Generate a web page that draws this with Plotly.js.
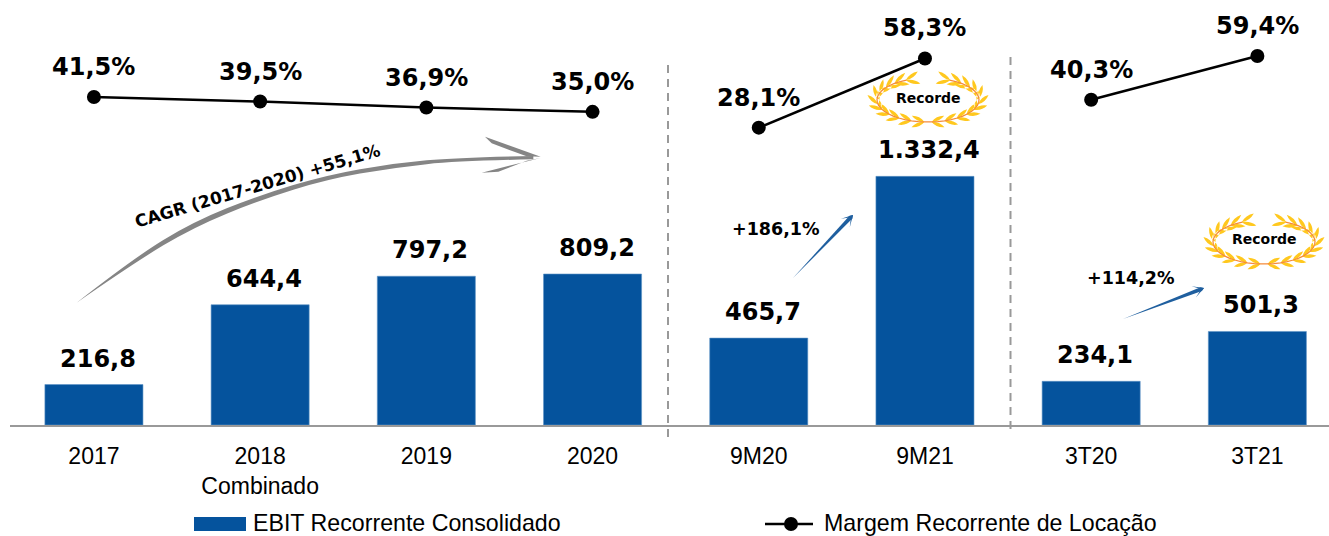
<!DOCTYPE html>
<html>
<head>
<meta charset="utf-8">
<script src="https://cdn.plot.ly/plotly-3.0.1.min.js"></script>
<style>html,body{margin:0;padding:0;background:#fff;overflow:hidden}#chart{width:1329px;height:536px}</style>
</head>
<body>
<div id="chart"></div>
<script>
const categories = ["2017", "2018<br>Combinado", "2019", "2020", "9M20", "9M21", "3T20", "3T21"];
const ebit = [216.8, 644.4, 797.2, 809.2, 465.7, 1332.4, 234.1, 501.3];
const ebitLabels = ["216,8", "644,4", "797,2", "809,2", "465,7", "1.332,4", "234,1", "501,3"];
const marginAnnual = [41.5, 39.5, 36.9, 35.0];
const margin9M = [28.1, 58.3];
const margin3T = [40.3, 59.4];
const marginAnnualLabels = ["41,5%", "39,5%", "36,9%", "35,0%"];
const margin9MLabels = ["28,1%", "58,3%"];
const margin3TLabels = ["40,3%", "59,4%"];
const seriesNames = ["EBIT Recorrente Consolidado", "Margem Recorrente de Locação"];

const BLUE = "#05539D", FONT_B = "'DejaVu Sans', sans-serif", FONT_R = "'Liberation Sans', sans-serif";
const L = 10, W = 1319, H = 425;
const px = x => (x - L) / W, py = y => 1 - y / H;
const P = (x, y) => px(x).toFixed(5) + "," + py(y).toFixed(5);
const poly = pts => "M" + pts.map(p => P(p[0], p[1])).join(" L") + " Z";
// Smooth curve through a run of points (quadratic segments between midpoints)
const smooth = pts => {
  let s = "";
  for (let i = 1; i < pts.length - 1; i++) {
    const mx = (pts[i][0] + pts[i + 1][0]) / 2, my = (pts[i][1] + pts[i + 1][1]) / 2;
    const end = i === pts.length - 2 ? pts[i + 1] : [mx, my];
    s += " Q" + P(pts[i][0], pts[i][1]) + " " + P(end[0], end[1]);
  }
  return s;
};

function pathShape(path, fill) {
  return {type: "path", xref: "paper", yref: "paper", path, fillcolor: fill, line: {width: 0}};
}

// Wreath decoration
function wreath(cx, cy) {
  const rx = 51, ry = 22, out = [], stems = [];
  [-1, 1].forEach(side => {
    const pt = a => [cx + side * rx * Math.cos(a), cy + ry * Math.sin(a)];
    const stemPts = [];
    for (let d = 85; d <= 245; d += 8) stemPts.push(pt(d * Math.PI / 180));
    stems.push("M" + stemPts.map(p => P(p[0], p[1])).join(" L"));
    for (let d = 94; d <= 245; d += 15) {
      const a = d * Math.PI / 180, p = pt(a);
      let tx = -rx * Math.sin(a) * side, ty = ry * Math.cos(a);
      const n = Math.hypot(tx, ty); tx /= n; ty /= n;
      [-0.42, 0.42].forEach(t => {
        const c = Math.cos(t), s = Math.sin(t);
        const dx = tx * c - ty * s, dy = tx * s + ty * c;
        const len = (d > 210 ? 15 : 14), wid = 3.6;
        const mx = p[0] + dx * len * 0.5, my = p[1] + dy * len * 0.5;
        const ex = p[0] + dx * len, ey = p[1] + dy * len;
        out.push("M" + P(p[0], p[1]) + " Q" + P(mx - dy * wid, my + dx * wid) + " " + P(ex, ey) +
                 " Q" + P(mx + dy * wid, my - dx * wid) + " " + P(p[0], p[1]) + " Z");
      });
    }
  });
  return [pathShape(out.join(" "), "#FFC81E"),
          {type: "path", xref: "paper", yref: "paper", path: stems.join(" "), line: {color: "#F58B3A", width: 1.2}}];
}

function thinArrow(a, b, headLen, color) {
  const dx = b[0] - a[0], dy = b[1] - a[1], n = Math.hypot(dx, dy), ux = dx / n, uy = dy / n, vx = -uy, vy = ux;
  const neck = [b[0] - ux * 3, b[1] - uy * 3];
  return [
    pathShape(poly([a, [neck[0] + vx * 2, neck[1] + vy * 2], b, [neck[0] - vx * 2, neck[1] - vy * 2]]), color),
    pathShape(poly([[b[0] - ux * headLen + vx * headLen * .55, b[1] - uy * headLen + vy * headLen * .55], b,
                    [b[0] - ux * headLen - vx * headLen * .55, b[1] - uy * headLen - vy * headLen * .55], [b[0] - ux * 3, b[1] - uy * 3]]), color)
  ];
}

const GRAY = "#858585";
const z = p => [p[0] / 3 + 60, p[1] / 3 + 120];
const shaftUp = [[50,548],[220,415],[400,305],[600,225],[800,165],[1000,130],[1200,112],[1420,108]].map(z);
const shaftLo = [[1420,118],[1200,122],[1000,143],[800,178],[600,240],[400,322],[220,430],[50,548]].map(z);
const shaftPath = "M" + P(shaftUp[0][0], shaftUp[0][1]) + smooth(shaftUp) + " L" + P(shaftLo[0][0], shaftLo[0][1]) + smooth(shaftLo) + " Z";
const barbTop = [[1275,50],[1442,110],[1400,109],[1295,70]].map(z);
const barbLow = [[1265,158],[1442,114],[1400,122],[1315,155]].map(z);

const shapes = [
  {type: "line", xref: "paper", yref: "paper", x0: px(668), x1: px(668), y0: py(65), y1: py(437), line: {color: "#999999", width: 2, dash: "8px,6px"}},
  {type: "line", xref: "paper", yref: "paper", x0: px(1010.5), x1: px(1010.5), y0: py(57), y1: py(432), line: {color: "#999999", width: 2, dash: "8px,6px"}},
  pathShape(shaftPath, GRAY),
  pathShape(poly(barbTop), GRAY),
  pathShape(poly(barbLow), GRAY),
  ...thinArrow([793, 278], [853, 215], 11, "#1F5F9F"),
  ...thinArrow([1123, 319], [1204, 288], 11, "#1F5F9F"),
  ...wreath(928, 100),
  ...wreath(1264, 242),
  {type: "rect", xref: "paper", yref: "paper", x0: px(194), x1: px(246), y0: py(517), y1: py(531), fillcolor: BLUE, line: {width: 0}},
  {type: "line", xref: "paper", yref: "paper", x0: px(765), x1: px(813), y0: py(524), y1: py(524), line: {color: "#000", width: 2.5}},
  {type: "circle", xref: "paper", yref: "paper", x0: px(784), x1: px(798), y0: py(517), y1: py(531), fillcolor: "#000", line: {width: 0}}
];

const annotations = [];
categories.forEach((c, i) => annotations.push({x: i, y: ebit[i], xref: "x", yref: "y", text: ebitLabels[i], showarrow: false,
  yanchor: "middle", yshift: 26, xshift: 4, font: {family: FONT_B, size: 24, color: "#000", weight: 700}}));
function lineLabels(start, vals, labs) {
  vals.forEach((v, i) => annotations.push({x: start + i, y: v, xref: "x", yref: "y2", text: labs[i], showarrow: false,
    yanchor: "middle", yshift: 30, font: {family: FONT_B, size: 24, color: "#000", weight: 700}}));
}
lineLabels(0, marginAnnual, marginAnnualLabels);
lineLabels(4, margin9M, margin9MLabels);
lineLabels(6, margin3T, margin3TLabels);
const free = (x, y, text, size, family, extra) => annotations.push(Object.assign({xref: "paper", yref: "paper", x: px(x), y: py(y),
  text, showarrow: false, xanchor: "center", yanchor: "middle", font: {family, size, color: "#000", weight: family === FONT_B ? 700 : 400}}, extra || {}));
free(257, 186, "CAGR (2017-2020) +55,1%", 17, FONT_B, {textangle: -16.5});
free(776, 229, "+186,1%", 17.5, FONT_B);
free(1131, 278, "+114,2%", 17.5, FONT_B);
free(928, 98, "Recorde", 14, FONT_B);
free(1264, 239, "Recorde", 14, FONT_B);
free(252, 522.5, seriesNames[0], 23.2, FONT_R, {xanchor: "left", borderpad: 0});
free(823, 522.5, seriesNames[1], 23.2, FONT_R, {xanchor: "left", borderpad: 0});

const lineStyle = {color: "#000", width: 2.5}, marker = {color: "#000", size: 14};
const lineTrace = (x, y) => ({type: "scatter", mode: "lines+markers", x, y, yaxis: "y2", line: lineStyle, marker, cliponaxis: false, showlegend: false, name: seriesNames[1]});

const data = [
  {type: "bar", x: categories, y: ebit, name: seriesNames[0], marker: {color: BLUE, line: {color: "#5E93C6", width: 0.6}}, width: 0.59, showlegend: false},
  lineTrace(categories.slice(0, 4), marginAnnual),
  lineTrace(categories.slice(4, 6), margin9M),
  lineTrace(categories.slice(6, 8), margin3T)
];

const layout = {
  width: 1329, height: 536, margin: {l: L, r: 0, t: 0, b: 536 - H},
  paper_bgcolor: "#fff", plot_bgcolor: "#fff", showlegend: false,
  xaxis: {type: "category", categoryorder: "array", categoryarray: categories, range: [-0.505, 7.431], showgrid: false, zeroline: false,
          showline: true, linecolor: "#999999", linewidth: 2, ticks: "outside", ticklen: 9, tickcolor: "rgba(0,0,0,0)",
          tickfont: {family: FONT_R, size: 23, color: "#000"}, tickangle: 0},
  yaxis: {range: [0, H / 0.1866], visible: false, fixedrange: true},
  yaxis2: {range: [(192 - H) / 2.29, 192 / 2.29], overlaying: "y", visible: false, fixedrange: true},
  shapes, annotations
};
Plotly.newPlot("chart", data, layout, {displayModeBar: false, staticPlot: true});
</script>
</body>
</html>
